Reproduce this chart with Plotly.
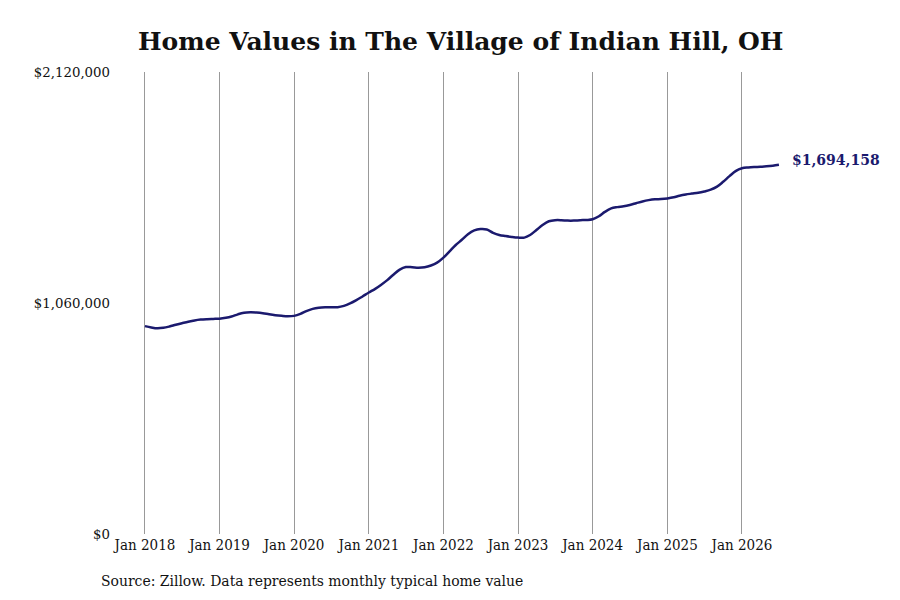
import pandas as pd
import plotly.graph_objects as go

# Monthly typical home value (Jan 2018 - Jul 2026)
dates = pd.date_range("2018-01-01", "2026-07-01", freq="MS")
values_2018 = [954000, 948000, 944000, 946000, 952000, 960000, 967000, 974000, 980000, 984000, 986000, 987000]
values_2019 = [988000, 992000, 998000, 1008000, 1015000, 1017000, 1016000, 1013000, 1008000, 1004000, 1001000, 999000]
values_2020 = [1001000, 1010000, 1023000, 1033000, 1038000, 1040000, 1040000, 1041000, 1047000, 1058000, 1073000, 1090000]
values_2021 = [1108000, 1125000, 1143000, 1165000, 1190000, 1213000, 1225000, 1224000, 1222000, 1224000, 1232000, 1245000]
values_2022 = [1268000, 1298000, 1325000, 1350000, 1376000, 1393000, 1399000, 1397000, 1382000, 1372000, 1367000, 1363000]
values_2023 = [1360000, 1360000, 1372000, 1395000, 1418000, 1435000, 1440000, 1440000, 1438000, 1438000, 1440000, 1441000]
values_2024 = [1444000, 1458000, 1478000, 1494000, 1500000, 1504000, 1510000, 1518000, 1526000, 1532000, 1536000, 1537000]
values_2025 = [1540000, 1545000, 1552000, 1558000, 1562000, 1566000, 1572000, 1580000, 1594000, 1616000, 1642000, 1665000]
values_2026 = [1678000, 1682000, 1684000, 1685000, 1687000, 1690000, 1694158]
values = (values_2018 + values_2019 + values_2020 + values_2021 + values_2022
          + values_2023 + values_2024 + values_2025 + values_2026)

y_ticks = [0, 1060000, 2120000]
y_labels = ["$0", "$1,060,000", "$2,120,000"]

navy = "#1b1a6e"
serif = "DejaVu Serif, serif"
condensed = "DejaVu Serif Condensed, DejaVu Serif, serif"

# page has an 8px body margin, so figure coords are offset by 8px
left, right, top, bottom = 103, 107, 64, 74
plot_w = 900 - left - right
plot_h = 600 - top - bottom

fig = go.Figure()
fig.add_trace(go.Scatter(x=dates, y=values, mode="lines",
                         line=dict(color=navy, width=2.5, shape="spline"),
                         hoverinfo="skip"))

fig.add_annotation(x=dates[-1], y=values[-1], text="<b>$" + "{:,}".format(values[-1]) + "</b>",
                   showarrow=False, xanchor="left", xshift=11, yshift=5,
                   font=dict(family=serif, size=14, color=navy))

fig.add_annotation(x=(91 - left) / plot_w, y=(600 - 573 - bottom) / plot_h,
                   xref="paper", yref="paper",
                   text="Source: Zillow. Data represents monthly typical home value",
                   showarrow=False, xanchor="left", yanchor="middle",
                   font=dict(family=condensed, size=15.5, color="#111111"))

fig.update_layout(
    width=900, height=600,
    margin=dict(l=left, r=right, t=top, b=bottom),
    paper_bgcolor="white", plot_bgcolor="white",
    showlegend=False,
    title=dict(text="<b>Home Values in The Village of Indian Hill, OH</b>",
               x=0.503, xanchor="center", y=1 - 33 / 600, yanchor="middle",
               font=dict(family=serif, size=25, color="#111111")),
    xaxis=dict(range=["2017-07-19", "2026-10-17"], tickformat="%b %Y", dtick="M12",
               tick0="2018-01-01", showgrid=True, gridcolor="#999999", gridwidth=1,
               zeroline=False, showline=False, ticks="",
               tickfont=dict(family=condensed, size=15, color="#111111")),
    yaxis=dict(range=[0, 2120000], tickvals=y_ticks, ticktext=y_labels,
               showgrid=False, zeroline=False, showline=False, ticks="",
               tickfont=dict(family=serif, size=13.3, color="#111111")),
)

fig.write_html("out.html")
